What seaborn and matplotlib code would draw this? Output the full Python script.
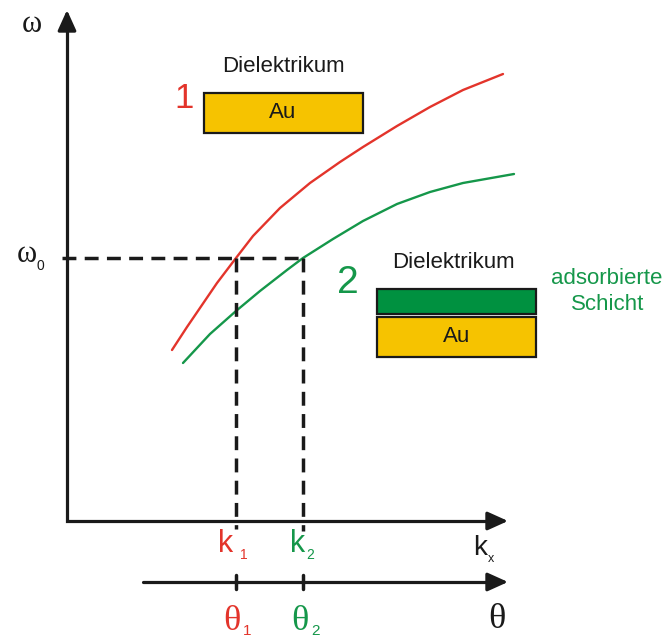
import matplotlib.pyplot as plt
import matplotlib.patches as mpatches
import seaborn as sns
import pandas as pd

# dispersion curves (origin at the axis corner, pixel-ish units)
k_red = [105, 120, 150, 169, 186, 213, 243, 273, 296, 330, 363, 396, 436]
w_red = [171, 194, 238, 263, 285, 313, 338, 359, 374, 395, 414, 431, 447]
k_green = [116, 143, 169, 193, 220, 236, 266, 296, 330, 363, 396, 447]
w_green = [158, 187, 210, 230, 251, 263, 282, 300, 317, 329, 338, 347]

k1, k2 = 169, 236          # resonance positions
omega0 = 263               # excitation frequency
k_end, w_end = 441, 511    # arrow tips of the two axes
theta_y, theta_start = -61, 76

RED = '#e3342b'
GREEN = '#15974a'
BOX_GREEN = '#009140'
GOLD = '#f6c300'
INK = '#1a1a1a'

sns.set_theme(style='white')
plt.rcParams['font.family'] = ['Liberation Sans', 'DejaVu Sans']

fig = plt.figure(figsize=(6.67, 6.38), dpi=100)
ax = fig.add_axes([0, 0, 1, 1])
ax.set_xlim(-67, 600)
ax.set_ylim(-117, 521)
ax.set_axis_off()

curves = pd.concat([
    pd.DataFrame({'k': k_red, 'w': w_red, 'layer': 'ohne'}),
    pd.DataFrame({'k': k_green, 'w': w_green, 'layer': 'mit'}),
])
sns.lineplot(data=curves, x='k', y='w', hue='layer', palette={'ohne': RED, 'mit': GREEN},
             sort=False, estimator=None, lw=1.7, legend=False, ax=ax)

# axes
ax.plot([0, 0, k_end - 10], [w_end - 10, 0, 0], color=INK, lw=2.3, solid_joinstyle='miter', zorder=3)
ax.plot([theta_start, k_end - 10], [theta_y, theta_y], color=INK, lw=2.3, zorder=3)
head = dict(arrowstyle='-|>,head_length=0.62,head_width=0.28', mutation_scale=20,
            color=INK, lw=2.3, shrinkA=0, shrinkB=0)
ax.annotate('', xy=(0, w_end), xytext=(0, w_end - 20), arrowprops=head)
ax.annotate('', xy=(k_end, 0), xytext=(k_end - 20, 0), arrowprops=head)
ax.annotate('', xy=(k_end, theta_y), xytext=(k_end - 20, theta_y), arrowprops=head)

# dashed guides
dash = dict(color=INK, lw=2.5, ls=(0, (4, 2.4)), zorder=2)
ax.plot([-5, k2], [omega0, omega0], **dash)
ax.plot([k1, k1], [omega0, -8], **dash)
ax.plot([k2, k2], [omega0, -10], **dash)
for kk in (k1, k2):
    ax.plot([kk, kk], [theta_y - 7, theta_y + 7], color=INK, lw=2.5)

# axis labels
serif = ['Liberation Serif', 'DejaVu Serif']
ax.text(-35, 497, 'ω', fontsize=22, family=serif, color=INK, ha='center', va='center')
ax.text(-40, 266, 'ω', fontsize=22, family=serif, color=INK, ha='center', va='center')
ax.text(-27, 255, '0', fontsize=10, color=INK, ha='center', va='center')

ax.text(159, -23, 'k', fontsize=22, color=RED, ha='center', va='center')
ax.text(177, -34, '1', fontsize=10, color=RED, ha='center', va='center')
ax.text(231, -23, 'k', fontsize=22, color=GREEN, ha='center', va='center')
ax.text(243, -34, '2', fontsize=10, color=GREEN, ha='center', va='center')
ax.text(413, -27, 'k', fontsize=20, color=INK, ha='center', va='center')
ax.text(424, -38, 'x', fontsize=9, color=INK, ha='center', va='center')

ax.text(165, -101, 'θ', fontsize=26, family=serif, color=RED, ha='center', va='center')
ax.text(180, -110, '1', fontsize=11, color=RED, ha='center', va='center')
ax.text(233, -101, 'θ', fontsize=26, family=serif, color=GREEN, ha='center', va='center')
ax.text(249, -110, '2', fontsize=11, color=GREEN, ha='center', va='center')
ax.text(430, -99, 'θ', fontsize=26, family=serif, color=INK, ha='center', va='center')

# sample 1: bare gold
ax.add_patch(mpatches.Rectangle((137, 388), 159, 40, facecolor=GOLD, edgecolor=INK, lw=1.6))
ax.text(216, 408, 'Au', fontsize=16, color=INK, ha='center', va='center')
ax.text(216, 454, 'Dielektrikum', fontsize=16, color=INK, ha='center', va='center')
ax.text(117, 423, '1', fontsize=25, color=RED, ha='center', va='center')

# sample 2: gold with adsorbed layer
ax.add_patch(mpatches.Rectangle((310, 207), 159, 25, facecolor=BOX_GREEN, edgecolor=INK, lw=1.6))
ax.add_patch(mpatches.Rectangle((310, 164), 159, 40, facecolor=GOLD, edgecolor=INK, lw=1.6))
ax.text(390, 184, 'Au', fontsize=16, color=INK, ha='center', va='center')
ax.text(386, 258, 'Dielektrikum', fontsize=16, color=INK, ha='center', va='center')
ax.text(281, 238, '2', fontsize=28, color=GREEN, ha='center', va='center')
ax.text(540, 242, 'adsorbierte', fontsize=16, color=GREEN, ha='center', va='center')
ax.text(541, 216, 'Schicht', fontsize=16, color=GREEN, ha='center', va='center')

fig.savefig('out.png', dpi=100)
